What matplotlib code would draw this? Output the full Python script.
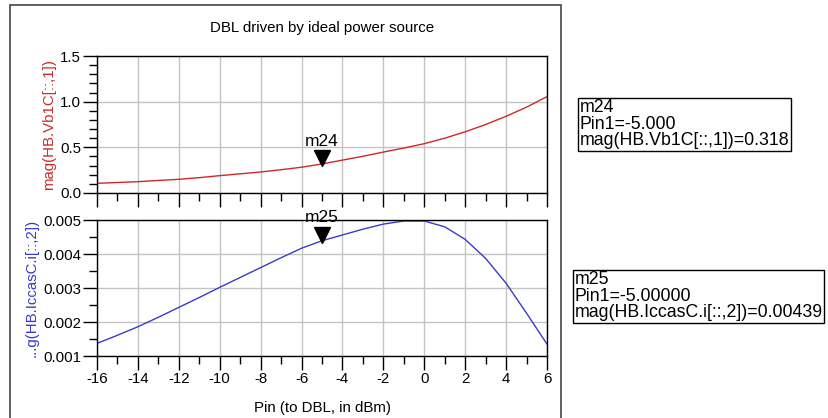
import matplotlib.pyplot as plt
import matplotlib.transforms as mtransforms
from matplotlib.patches import Rectangle
from matplotlib.ticker import MultipleLocator

plt.rcParams['font.family'] = ['Liberation Sans', 'DejaVu Sans']
plt.rcParams['axes.unicode_minus'] = False

# Pin sweep (dBm) and the two harmonic-balance results
pin = [-16, -15, -14, -13, -12, -11, -10, -9, -8, -7, -6, -5, -4, -3, -2, -1, 0, 1, 2, 3, 4, 5, 6]
vb1c = [0.106, 0.115, 0.124, 0.137, 0.150, 0.168, 0.190, 0.210, 0.230, 0.255, 0.282, 0.318,
        0.360, 0.402, 0.448, 0.492, 0.540, 0.600, 0.670, 0.750, 0.840, 0.940, 1.055]
icc = [0.00137, 0.00161, 0.00186, 0.00214, 0.00243, 0.00272, 0.00302, 0.00331, 0.00360,
       0.00389, 0.00417, 0.00439, 0.00456, 0.00473, 0.00488, 0.00497, 0.00497, 0.00480,
       0.00443, 0.00387, 0.00314, 0.00226, 0.00135]

m24_x, m24_y = -5.0, 0.318
m25_x, m25_y = -5.0, 0.00439

red = '#cc2a2a'
blue = '#3a3acc'
fs = 10.8

W, H = 829, 418
fig = plt.figure(figsize=(W / 100, H / 100), dpi=100)

def fr(x0, y0, x1, y1):
    # pixel box -> figure fraction
    return [x0 / W, 1 - y1 / H, (x1 - x0) / W, (y1 - y0) / H]

ax1 = fig.add_axes(fr(97, 56, 547, 193))
ax2 = fig.add_axes(fr(97, 220, 547, 356))

# outer plot frame
fig.patches.append(Rectangle((10 / W, -0.1), (561 - 10) / W, 1 - 5 / H + 0.1,
                             transform=fig.transFigure, fill=False, ec='#444444', lw=1.2))

for ax in (ax1, ax2):
    ax.set_xlim(-16, 6)
    ax.xaxis.set_major_locator(MultipleLocator(2))
    ax.xaxis.set_minor_locator(MultipleLocator(1))
    ax.grid(True, which='major', color='#c4c4c4', lw=1)
    ax.set_axisbelow(True)
    ax.tick_params(which='major', direction='out', length=10, width=1, labelsize=fs, pad=1.5)
    ax.tick_params(which='minor', direction='out', length=6, width=1)
    for s in ax.spines.values():
        s.set_color('black')
        s.set_linewidth(1)

ax1.plot(pin, vb1c, color=red, lw=1)
ax1.set_ylim(0, 1.5)
ax1.yaxis.set_major_locator(MultipleLocator(0.5))
ax1.yaxis.set_minor_locator(MultipleLocator(0.1))
ax1.yaxis.set_major_formatter(plt.FormatStrFormatter('%.1f'))
ax1.tick_params(axis='x', labelbottom=False)
ax1.set_ylabel('mag(HB.Vb1C[::,1])', color=red, fontsize=fs, labelpad=3)
ax1.set_title('DBL driven by ideal power source', fontsize=fs, pad=17)

ax2.plot(pin, icc, color=blue, lw=1)
ax2.set_ylim(0.001, 0.005)
ax2.yaxis.set_major_locator(MultipleLocator(0.001))
ax2.yaxis.set_minor_locator(MultipleLocator(0.0005))
ax2.yaxis.set_major_formatter(plt.FormatStrFormatter('%.3f'))
ax2.set_ylabel('...g(HB.IccasC.i[::,2])', color=blue, fontsize=fs, labelpad=3)
ax2.set_xlabel('Pin (to DBL, in dBm)', fontsize=fs, labelpad=11)

# markers: inverted triangle sitting on the curve
for ax, mx, my, name in ((ax1, m24_x, m24_y, 'm24'), (ax2, m25_x, m25_y, 'm25')):
    shift = mtransforms.ScaledTranslation(0, 5.5 / 100, fig.dpi_scale_trans)
    ax.plot([mx], [my], marker='v', color='black', ms=11, clip_on=False,
            transform=ax.transData + shift)
    ax.annotate(name, xy=(mx, my), xytext=(0, 11), textcoords='offset points',
                ha='center', va='bottom', fontsize=12.5, annotation_clip=False)

# marker readouts
fig.text(578 / W + 0.002, 1 - 99 / H,
         'm24\nPin1=-5.000\nmag(HB.Vb1C[::,1])=%.3f' % m24_y,
         fontsize=12.8, va='top', ha='left', linespacing=0.98,
         bbox=dict(boxstyle='square,pad=0.08', fc='white', ec='black', lw=1))
fig.text(573 / W + 0.002, 1 - 271 / H,
         'm25\nPin1=-5.00000\nmag(HB.IccasC.i[::,2])=%.5f' % m25_y,
         fontsize=12.8, va='top', ha='left', linespacing=0.98,
         bbox=dict(boxstyle='square,pad=0.08', fc='white', ec='black', lw=1))

fig.savefig('out.png', dpi=100)
